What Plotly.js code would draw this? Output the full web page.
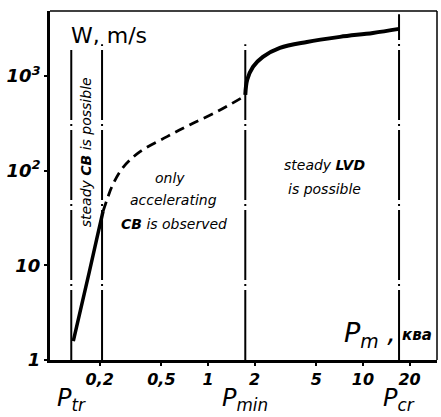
<!DOCTYPE html>
<html>
<head>
<meta charset="utf-8">
<script src="https://cdn.plot.ly/plotly-3.0.1.min.js"></script>
<style>html,body{margin:0;padding:0;background:#fff}#chart{width:441px;height:417px}</style>
</head>
<body>
<div id="chart"></div>
<script>
// Solid lower branch (steady CB)
const lowX = [0.135, 0.149, 0.171, 0.191, 0.21];
const lowW = [1.58, 3.3, 8.4, 18.8, 37];
// Dashed middle branch (only accelerating CB)
const midX = [0.21, 0.223, 0.24, 0.283, 0.364, 0.544, 0.766, 1.143, 1.72];
const midW = [37, 49.5, 68, 108, 158, 228, 305, 418, 610];
// Solid upper branch (steady LVD)
const highX = [1.74, 1.79, 1.95, 2.26, 2.91, 4.35, 7.11, 11.6, 17.1];
const highW = [630, 907, 1244, 1585, 1972, 2279, 2575, 2837, 3130];
// Boundary pressures: Ptr, 0.2, Pmin, Pcr
const boundX = [0.131, 0.207, 1.74, 17.1];
const boundLabels = ["P<sub>tr</sub>", "", "P<sub>min</sub>", "P<sub>cr</sub>"];
// Tick labels
const xTickVals = [0.2, 0.5, 1, 2, 5, 10, 20];
const xTickText = ["0,2", "0,5", "1", "2", "5", "10", "20"];
const yTickVals = [1, 10, 100, 1000];
const yTickText = ["1", "10", "10<sup>2</sup>", "10<sup>3</sup>"];

const FONT = "DejaVu Sans, sans-serif";
const traces = [
  {x: lowX, y: lowW, mode: "lines", line: {color: "#000", width: 3.5}, hoverinfo: "skip"},
  {x: midX, y: midW, mode: "lines", line: {color: "#000", width: 2.8, dash: "10px,6px", shape: "spline"}, hoverinfo: "skip"},
  {x: highX, y: highW, mode: "lines", line: {color: "#000", width: 4, shape: "spline"}, hoverinfo: "skip"}
];

const lineTops = [0.888, 0.905, 0.905, 0.991];
const shapes = boundX.map((bx, i) => ({
  type: "line", xref: "x", yref: "paper", x0: bx, x1: bx, y0: 0, y1: lineTops[i],
  line: {color: "#000", width: 2, dash: "70px,4px,2px,4px"}
}));

const annotations = [];
boundX.forEach((bx, i) => {
  if (!boundLabels[i]) return;
  annotations.push({x: Math.log10(bx), xref: "x", y: -0.162, yref: "paper", yanchor: "bottom",
    xanchor: "center", showarrow: false, text: boundLabels[i],
    font: {family: FONT, size: 24, color: "#000", style: "italic"}});
});
annotations.push(
  {xref: "paper", yref: "paper", x: 0.05, y: 0.93, xanchor: "left", yanchor: "middle", showarrow: false,
   text: "W, m/s", font: {family: FONT, size: 22, color: "#000"}},
  {xref: "paper", yref: "paper", x: 0.755, y: 0.073, xanchor: "left", yanchor: "middle", showarrow: false,
   text: "P<sub>m</sub> ,", font: {family: FONT, size: 27, color: "#000", style: "italic"}},
  {xref: "paper", yref: "paper", x: 0.905, y: 0.073, xanchor: "left", yanchor: "middle", showarrow: false,
   text: "<b>ква</b>", font: {family: FONT, size: 15, color: "#000", style: "italic"}},
  {xref: "paper", yref: "paper", x: 0.093, y: 0.595, xanchor: "center", yanchor: "middle", showarrow: false,
   textangle: -90, text: "steady <b>CB</b> is possible", font: {family: FONT, size: 14, color: "#000", style: "italic"}},
  {xref: "paper", yref: "paper", x: 0.31, y: 0.522, xanchor: "center", yanchor: "middle", showarrow: false,
   text: "only", font: {family: FONT, size: 14, color: "#000", style: "italic"}},
  {xref: "paper", yref: "paper", x: 0.32, y: 0.458, xanchor: "center", yanchor: "middle", showarrow: false,
   text: "accelerating", font: {family: FONT, size: 14, color: "#000", style: "italic"}},
  {xref: "paper", yref: "paper", x: 0.32, y: 0.39, xanchor: "center", yanchor: "middle", showarrow: false,
   text: "<b>CB</b> is observed", font: {family: FONT, size: 14, color: "#000", style: "italic"}},
  {xref: "paper", yref: "paper", x: 0.71, y: 0.56, xanchor: "center", yanchor: "middle", showarrow: false,
   text: "steady <b>LVD</b>", font: {family: FONT, size: 14, color: "#000", style: "italic"}},
  {xref: "paper", yref: "paper", x: 0.71, y: 0.49, xanchor: "center", yanchor: "middle", showarrow: false,
   text: "is possible", font: {family: FONT, size: 14, color: "#000", style: "italic"}}
);

const layout = {
  width: 441, height: 417,
  margin: {l: 50, r: 4, t: 11, b: 57},
  paper_bgcolor: "#fff", plot_bgcolor: "#fff",
  showlegend: false,
  xaxis: {type: "log", range: [-1.02, 1.478], tickvals: xTickVals, ticktext: xTickText,
    showgrid: false, zeroline: false, showline: true, linecolor: "#000", linewidth: 3,
    ticks: "outside", ticklen: 3, tickwidth: 2, tickcolor: "#000", mirror: false,
    tickfont: {family: FONT, size: 16, color: "#000", weight: "bold", style: "italic"}},
  yaxis: {type: "log", range: [0, 3.684], tickvals: yTickVals, ticktext: yTickText,
    showgrid: false, zeroline: false, showline: true, linecolor: "#000", linewidth: 3,
    ticks: "outside", ticklen: 3, tickwidth: 2, tickcolor: "#000", mirror: false,
    tickfont: {family: FONT, size: 18, color: "#000", weight: "bold", style: "italic"}},
  shapes: shapes.concat([
    {type: "line", xref: "paper", yref: "paper", x0: 0, x1: 1, y0: 1, y1: 1, line: {color: "#000", width: 1.5}},
    {type: "line", xref: "paper", yref: "paper", x0: 1, x1: 1, y0: 0, y1: 1, line: {color: "#000", width: 1.5}}
  ]),
  annotations: annotations
};

Plotly.newPlot("chart", traces, layout, {staticPlot: true, displayModeBar: false});
</script>
</body>
</html>
